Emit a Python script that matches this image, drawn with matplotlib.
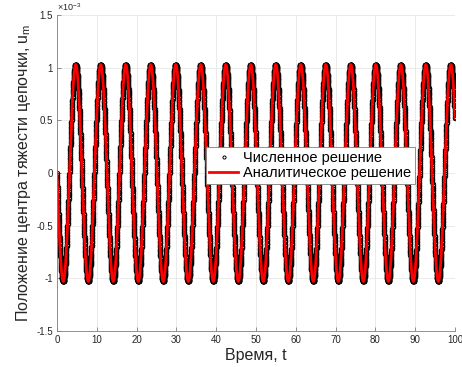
import numpy as np
import matplotlib
matplotlib.use("Agg")
import matplotlib.pyplot as plt

# ---- data ----
t_range = [0, 100]          # time span
amplitude = 1.03e-3         # oscillation amplitude of u_m
angular_freq = [1.0]        # rad per unit time (period ~ 6.28)
n_numeric = 6000            # number of numerical samples
n_analytic = 4000
x_ticks = [0, 10, 20, 30, 40, 50, 60, 70, 80, 90, 100]
y_ticks = [-1.5, -1, -0.5, 0, 0.5, 1, 1.5]
y_tick_labels = ["-1.5", "-1", "-0.5", "0", "0.5", "1", "1.5"]
labels = ["Численное решение", "Аналитическое решение"]
xlabel = "Время, t"
ylabel = r"Положение центра тяжести цепочки, $\mathregular{u_m}$"

t_num = np.linspace(t_range[0], t_range[1], n_numeric)
u_num = -amplitude * np.sin(angular_freq[0] * t_num)
t_an = np.linspace(t_range[0], t_range[1], n_analytic)
u_an = -amplitude * np.sin(angular_freq[0] * t_an)

plt.rcParams['font.family'] = ['Liberation Sans', 'DejaVu Sans']

fig = plt.figure(figsize=(4.62, 3.67), dpi=100)
ax = fig.add_axes([57/462, 36/367, 398/462, 316/367])

ax.plot(t_num, u_num / 1e-3, linestyle='none', marker='o', markersize=3.2,
        markerfacecolor='none', markeredgecolor='black', markeredgewidth=0.7,
        label=labels[0])
ax.plot(t_an, u_an / 1e-3, color='#ff0000', linewidth=2.0, label=labels[1])

ax.set_xlim(t_range)
ax.set_ylim(-1.5, 1.5)
ax.set_xticks(x_ticks)
ax.set_yticks(y_ticks)
ax.set_yticklabels(y_tick_labels)
ax.grid(True, color='#e6e6e6', linewidth=0.6)
ax.set_axisbelow(True)
for s in ['top', 'right']:
    ax.spines[s].set_visible(False)
for s in ['left', 'bottom']:
    ax.spines[s].set_color('#808080')
    ax.spines[s].set_linewidth(0.6)
ax.tick_params(direction='in', length=3, width=0.6, color='#808080',
               labelsize=7, labelcolor='#262626', pad=3)

ax.text(0.0, 1.005, r"$\mathregular{\times10^{-3}}$", transform=ax.transAxes,
        fontsize=6.5, color='#262626', ha='left', va='bottom')

ax.set_xlabel(xlabel, fontsize=11.5, color='#262626', labelpad=2)
ax.set_ylabel(ylabel, fontsize=11.5, color='#262626', labelpad=2)

leg = ax.legend(loc='center', bbox_to_anchor=(0.636, 0.524), fontsize=10.5,
                frameon=True, fancybox=False, framealpha=1, edgecolor='#808080',
                handlelength=2.0, handletextpad=0.3, borderpad=0.25,
                labelspacing=0.1, borderaxespad=0, markerscale=0.7)
leg.get_frame().set_linewidth(0.6)

fig.savefig("out.png", dpi=100)
